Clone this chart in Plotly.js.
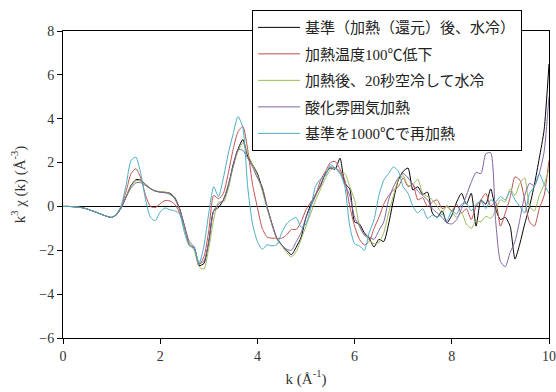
<!DOCTYPE html>
<html>
<head>
<meta charset="utf-8">
<script src="https://cdn.plot.ly/plotly-3.0.1.min.js"></script>
<style>html,body{margin:0;padding:0;background:#fff;}#chart{width:556px;height:392px;}</style>
</head>
<body>
<div id="chart"></div>
<script>
// k values (Å^-1)
const kValues = [0,0.1,0.2,0.3,0.4,0.5,0.6,0.7,0.8,0.9,1.0,1.1,1.2,1.3,1.4,1.5,1.6,1.7,1.8,1.9,2.0,2.1,2.2,2.3,2.4,2.5,2.6,2.7,2.8,2.9,3.0,3.1,3.2,3.3,3.4,3.5,3.6,3.7,3.8,3.9,4.0,4.1,4.2,4.3,4.4,4.5,4.6,4.7,4.8,4.9,5.0,5.1,5.2,5.3,5.4,5.5,5.6,5.7,5.8,5.9,6.0,6.1,6.2,6.3,6.4,6.5,6.6,6.7,6.8,6.9,7.0,7.1,7.2,7.3,7.4,7.5,7.6,7.7,7.8,7.9,8.0,8.1,8.2,8.3,8.4,8.5,8.6,8.7,8.8,8.9,9.0,9.1,9.2,9.3,9.4,9.5,9.6,9.7,9.8,9.9,10.0];

const seriesNames = ["基準（加熱（還元）後、水冷）","加熱温度100℃低下","加熱後、20秒空冷して水冷","酸化雰囲気加熱","基準を1000℃で再加熱"];
const seriesColors = ["#000000","#C0504D","#9BBB59","#8064A2","#4BACC6"];

const baseline = [0,0,-0.01,-0.03,-0.06,-0.12,-0.2,-0.28,-0.37,-0.45,-0.5,-0.38,-0.05,
 0.45,0.95,1.22,1.2,1.0,0.82,0.7,0.66,0.64,0.6,0.4,-0.1,-0.9,-1.75,-1.9,-2.7,-2.6,-1.6,-0.2,-0.05,0.3,0.9,1.9,2.6,3.05,2.3,1.9,1.5,0.8,-0.05,-0.8,-1.45,-1.75,-2.0,-2.2,-1.85,-1.4,-0.5,0.1,0.55,0.95,1.5,1.75,1.7,2.2,1.05,0.8,-0.7,-0.8,-1.2,-1.45,-1.85,-1.5,-1.6,-0.8,0.3,1.2,1.6,1.75,0.75,0.9,0.55,0.65,-0.3,-0.5,-0.2,-0.75,-0.4,0.2,0.6,0.1,0.6,-0.9,0.3,0.1,0.8,-0.1,-0.6,-0.5,-0.9,-2.4,-1.7,-0.8,0.0,1.0,2.2,3.5,6.5];

const lowerTemp = [0,0,-0.01,-0.03,-0.06,-0.12,-0.2,-0.28,-0.37,-0.45,-0.5,-0.36,0.0,
 0.7,1.5,1.72,1.3,0.5,0.0,-0.05,0.12,0.27,0.25,0.1,-0.3,-1.0,-1.75,-1.9,-2.65,-2.3,-1.1,0.5,0.35,0.6,1.5,2.6,3.4,3.65,2.6,1.0,-0.05,-1.0,-1.4,-1.45,-1.45,-1.45,-1.3,-1.05,-1.05,-0.7,-0.15,0.2,0.55,1.2,1.6,2.0,2.05,1.7,1.2,0.0,-0.9,-1.5,-1.75,-1.6,-1.0,-0.5,0.1,0.5,0.75,0.9,1.3,0.9,1.0,0.3,0.4,0.0,0.2,0.3,-0.1,0.0,-0.2,0.1,-0.3,-0.1,-0.6,0.0,0.3,0.6,0.0,0.2,-0.9,-0.3,0.4,1.35,1.2,0.3,-0.7,-0.9,-0.1,0.5,2.1];

const airCool = [0,0,-0.01,-0.03,-0.06,-0.12,-0.2,-0.28,-0.37,-0.45,-0.5,-0.38,-0.05,
 0.45,0.92,1.18,1.15,0.98,0.82,0.72,0.68,0.66,0.58,0.35,-0.15,-0.95,-1.7,-2.0,-2.75,-2.85,-1.9,-0.6,0.2,0.2,0.8,1.8,2.5,2.9,2.4,1.9,1.4,0.7,-0.1,-0.85,-1.5,-1.8,-2.1,-2.3,-2.05,-1.5,-0.9,-0.3,0.3,0.8,1.3,1.65,1.75,1.5,1.5,0.9,0.3,-0.9,-1.3,-1.55,-1.7,-1.65,-1.2,-0.3,0.5,1.2,1.4,0.95,1.0,1.25,0.6,0.45,0.3,0.0,-0.3,0.05,-0.25,-0.5,-0.3,-0.8,-1.0,-0.65,-0.7,-0.45,-0.55,-0.2,0.3,0.2,0.8,0.5,1.05,1.3,0.0,-0.2,0.5,1.0,1.7];

const oxidizing = [0,0,-0.01,-0.03,-0.06,-0.12,-0.2,-0.28,-0.37,-0.45,-0.5,-0.38,-0.06,
 0.42,0.85,1.08,1.08,0.95,0.8,0.7,0.65,0.62,0.55,0.35,-0.15,-0.9,-1.6,-1.85,-2.6,-2.5,-1.6,-0.2,0.1,0.3,1.0,1.8,2.6,2.55,2.2,1.8,1.3,0.9,0.0,-0.8,-1.45,-1.75,-1.95,-2.0,-1.6,-1.2,-0.5,0.0,0.5,1.0,1.5,1.8,1.75,1.6,1.0,0.5,-0.5,-0.9,-1.3,-1.4,-1.5,-1.1,-0.7,0.3,0.9,1.3,1.5,1.3,1.0,0.7,0.5,0.3,-0.1,-0.3,-0.5,-0.75,-0.8,-0.6,-0.1,0.5,1.1,1.55,1.5,2.4,2.45,-0.6,-2.5,-2.75,-2.1,-1.6,-0.6,0.5,1.05,0.95,1.5,2.5,5.0];

const reheated = [0,0,-0.01,-0.03,-0.06,-0.12,-0.2,-0.28,-0.37,-0.45,-0.5,-0.34,0.05,
 1.0,2.1,2.25,1.5,0.3,-0.5,-0.65,-0.25,-0.07,-0.15,-0.2,-0.35,-1.2,-1.8,-1.9,-2.6,-1.8,-0.3,0.9,0.45,1.3,2.4,3.3,4.1,3.6,0.9,-0.8,-1.6,-1.95,-1.75,-1.8,-1.75,-1.2,-0.8,-0.6,-0.5,-0.95,-0.8,-0.05,0.95,1.25,1.4,1.9,1.75,1.5,0.9,-0.9,-1.7,-1.8,-2.0,-1.2,-0.6,0.5,1.2,1.5,1.8,1.6,0.9,0.6,0.0,-0.3,-0.1,-0.55,-0.4,-0.5,-0.35,-0.65,-0.2,-0.35,0.1,0.15,-0.2,0.1,0.25,-0.1,0.3,0.2,0.45,0.3,0.7,0.3,0.0,-0.3,0.6,0.9,1.5,1.0,0.6];

const seriesValues = [baseline, lowerTemp, airCool, oxidizing, reheated];

const xTickVals = [0,2,4,6,8,10];
const yTickVals = [-6,-4,-2,0,2,4,6,8];

const serif = "Liberation Serif, 'Noto Sans CJK JP', serif";

const traces = seriesNames.map((name, i) => ({
  x: kValues,
  y: seriesValues[i],
  type: "scatter",
  mode: "lines",
  name: name,
  legendgroup: "g" + i,
  line: {color: seriesColors[i], width: 1, shape: "spline", smoothing: 0.6}
}));

const layout = {
  width: 556,
  height: 392,
  margin: {l: 63, r: 7, t: 31, b: 54},
  paper_bgcolor: "#ffffff",
  plot_bgcolor: "#ffffff",
  font: {family: serif, size: 14, color: "#333333"},
  showlegend: true,
  legend: {
    x: 0.389, y: 1.068, xanchor: "left", yanchor: "top",
    bgcolor: "#ffffff", bordercolor: "#000000", borderwidth: 1,
    font: {family: serif, size: 15, color: "#222222"},
    traceorder: "grouped", tracegroupgap: 4,
    itemwidth: 42
  },
  xaxis: {
    range: [0, 10],
    tickvals: xTickVals,
    ticks: "outside", ticklen: 5, tickcolor: "#000",
    showline: true, linecolor: "#000", linewidth: 1, mirror: true,
    showgrid: false, zeroline: false,
    tickfont: {family: serif, size: 14, color: "#333"},
    title: {text: "k (Å<sup>-1</sup>)", font: {family: serif, size: 15, color: "#333"}, standoff: 10}
  },
  yaxis: {
    range: [-6, 8],
    tickvals: yTickVals,
    ticks: "outside", ticklen: 5, tickcolor: "#000",
    showline: true, linecolor: "#000", linewidth: 1, mirror: true,
    showgrid: false,
    zeroline: true, zerolinecolor: "#000", zerolinewidth: 1,
    tickfont: {family: serif, size: 14, color: "#333"},
    title: {text: "k<sup>3</sup> χ (k) (Å<sup>-3</sup>)", font: {family: serif, size: 15, color: "#333"}, standoff: 10}
  }
};

Plotly.newPlot("chart", traces, layout, {displayModeBar: false, staticPlot: true});
</script>
</body>
</html>
